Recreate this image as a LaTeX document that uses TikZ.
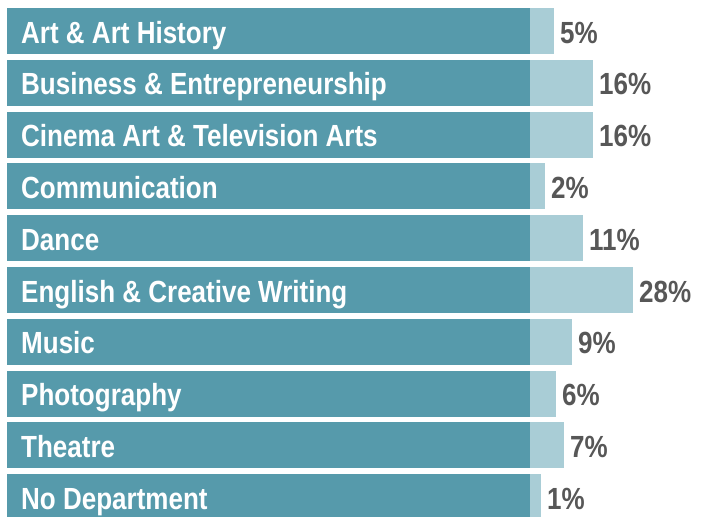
\documentclass[tikz,border=0pt]{standalone}
\usepackage{fontspec}
\setmainfont{Liberation Sans}[FakeStretch=0.85]
\definecolor{darkteal}{HTML}{569AAB}
\definecolor{lightteal}{HTML}{A9CDD6}
\definecolor{pctgray}{HTML}{575757}
\begin{document}
\begin{tikzpicture}[x=1pt,y=-1pt,
  darkbar/.style={fill=darkteal,draw=none},
  lightbar/.style={fill=lightteal,draw=none},
  lbl/.style={anchor=base west,inner sep=0pt,text=white,font=\fontsize{30.6}{31}\selectfont\bfseries},
  pct/.style={anchor=base west,inner sep=0pt,text=pctgray,font=\fontsize{30.6}{31}\selectfont\bfseries}]
\useasboundingbox (0,0) rectangle (713,517);
\foreach \i/\name/\len/\p in {0/Art \& Art History/554/5,
  1/Business \& Entrepreneurship/593/16,
  2/Cinema Art \& Television Arts/593/16,
  3/Communication/545/2,
  4/Dance/583/11,
  5/English \& Creative Writing/633/28,
  6/Music/572/9,
  7/Photography/556/6,
  8/Theatre/564/7,
  9/No Department/541/1} {
  \pgfmathsetmacro{\top}{8+51.8*\i}
  \fill[lightbar] (530,\top) rectangle (\len,\top+46);
  \fill[darkbar] (7,\top) rectangle (530,\top+46);
  \node[lbl] (l\i) at (21,\top+35) {\name};
  \node[pct] (p\i) at (\len+6,\top+35) {\p\%};
}
\end{tikzpicture}
\end{document}
